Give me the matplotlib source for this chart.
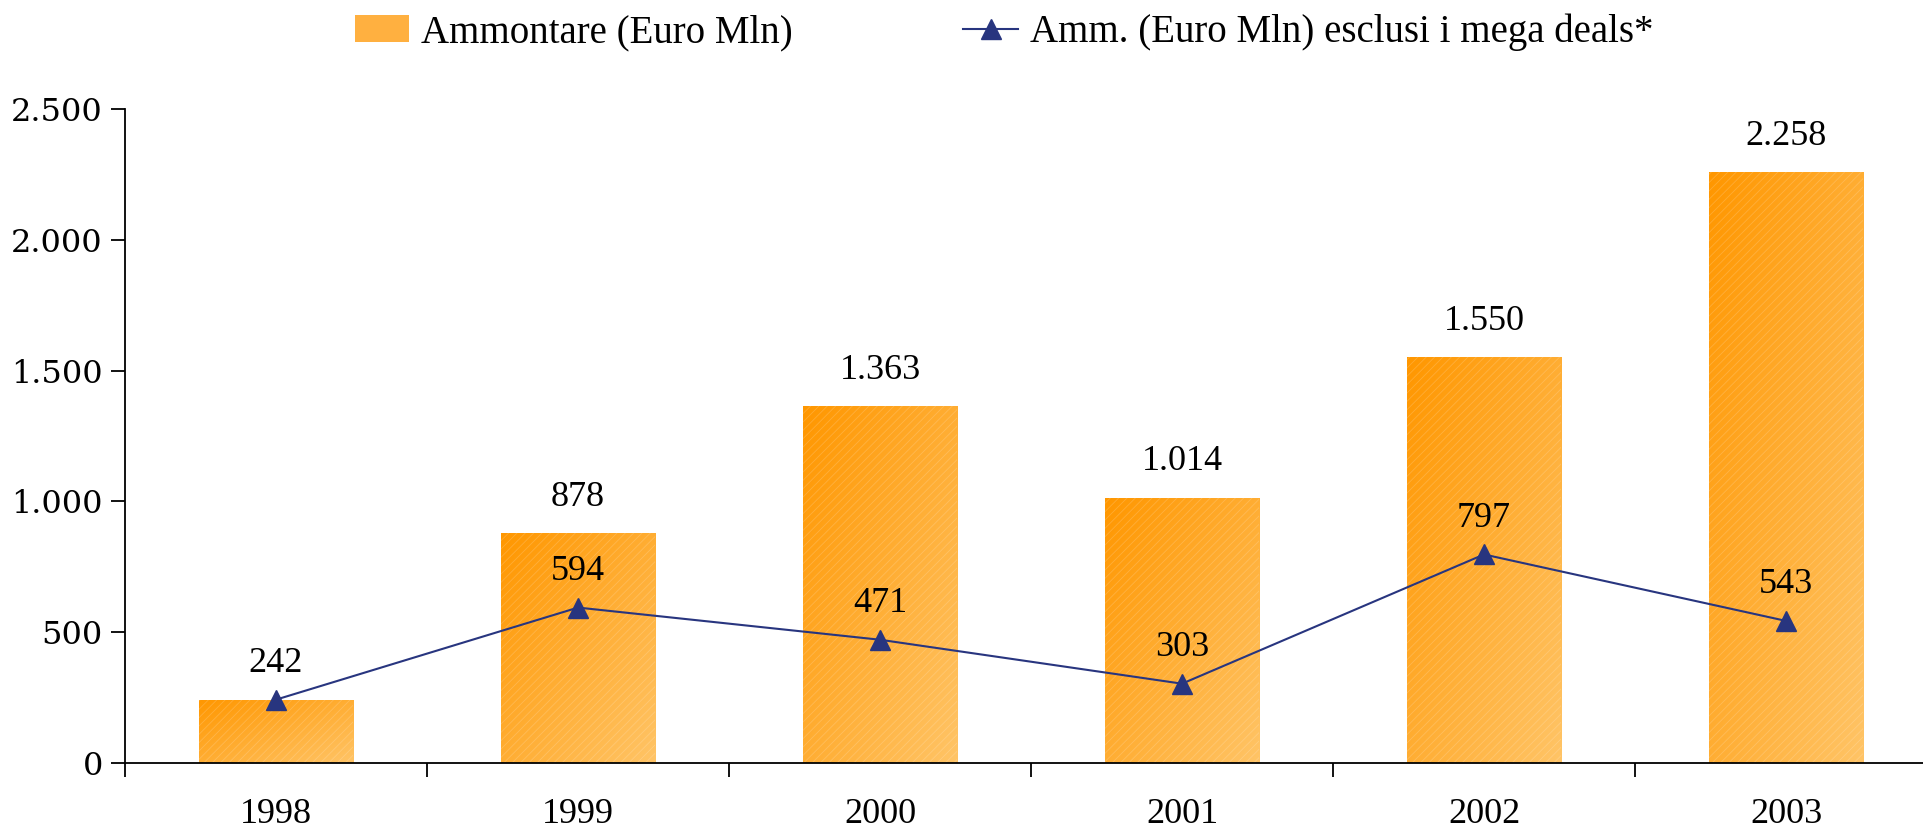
import numpy as np
import matplotlib
matplotlib.use('Agg')
import matplotlib.pyplot as plt
from matplotlib.lines import Line2D
from matplotlib.patches import Patch
from matplotlib.colors import LinearSegmentedColormap

# dati
years = ['1998', '1999', '2000', '2001', '2002', '2003']
ammontare = [242, 878, 1363, 1014, 1550, 2258]
esclusi_mega = [242, 594, 471, 303, 797, 543]
ammontare_labels = ['242', '878', '1.363', '1.014', '1.550', '2.258']
esclusi_labels = ['', '594', '471', '303', '797', '543']
yticks = [0, 500, 1000, 1500, 2000, 2500]
ytick_labels = ['0', '500', '1.000', '1.500', '2.000', '2.500']

orange_cmap = LinearSegmentedColormap.from_list('arancio', ['#FF9700', '#FFC466'])
navy = '#28357F'

plt.rcParams['hatch.linewidth'] = 0.6

fig = plt.figure(figsize=(19.23, 8.32), dpi=100)
# l'asse x prosegue oltre il bordo destro come nell'originale
ax = fig.add_axes([0.065, 0.083, 0.9423, 0.786])

x = np.arange(len(years))
bars = ax.bar(x, ammontare, width=0.513, color='#FFB040', zorder=1)

# gradiente diagonale su ogni barra
grad = np.add.outer(np.linspace(0, 1, 100), np.linspace(0, 1, 100)) / 2
for b in bars:
    x0, w, h = b.get_x(), b.get_width(), b.get_height()
    im = ax.imshow(grad, cmap=orange_cmap, extent=[x0, x0 + w, 0, h],
                   origin='upper', aspect='auto', zorder=1.5, interpolation='bilinear')
    im.set_clip_path(b)
# leggera trama
ax.bar(x, ammontare, width=0.513, facecolor='none', edgecolor=(1, 1, 1, 0.18),
       hatch='////', linewidth=0, zorder=1.6)

ax.plot(x, esclusi_mega, color=navy, lw=1.5, marker='^', markersize=14, zorder=3)

lab_font = dict(family='Liberation Serif', fontsize=26, ha='center', va='baseline')
for xi, v, s in zip(x, ammontare, ammontare_labels):
    ax.text(xi, v + 105, s, **lab_font)
for xi, v, s in zip(x, esclusi_mega, esclusi_labels):
    if s:
        ax.text(xi, v + 105, s, **lab_font)

ax.set_xlim(-0.5, len(years) - 0.5)
ax.set_ylim(0, 2500)
ax.set_yticks(yticks)
ax.set_yticklabels(ytick_labels, family='DejaVu Serif', fontsize=23)
ax.tick_params(axis='y', direction='out', length=10, width=1.3, pad=6)

ax.set_xticks(np.arange(len(years) + 1) - 0.5)
ax.set_xticklabels([])
ax.tick_params(axis='x', which='major', direction='out', length=10, width=1.3)
ax.set_xticks(x, minor=True)
ax.set_xticklabels(years, minor=True, family='Liberation Serif', fontsize=26)
ax.tick_params(axis='x', which='minor', length=0, pad=25)

for s in ['top', 'right']:
    ax.spines[s].set_visible(False)
for s in ['left', 'bottom']:
    ax.spines[s].set_linewidth(1.3)

handles = [Patch(facecolor='#FFB040', edgecolor='none'),
           Line2D([0], [0], color=navy, lw=1.5, marker='^', markersize=14)]
fig.legend(handles, ['Ammontare (Euro Mln)', 'Amm. (Euro Mln) esclusi i mega deals*'],
           loc='center', bbox_to_anchor=(0.522, 0.961), ncol=2, frameon=False,
           prop={'family': 'Liberation Serif', 'size': 28}, columnspacing=4.4,
           handlelength=1.4, handletextpad=0.3)

fig.savefig('out.png', dpi=100)
